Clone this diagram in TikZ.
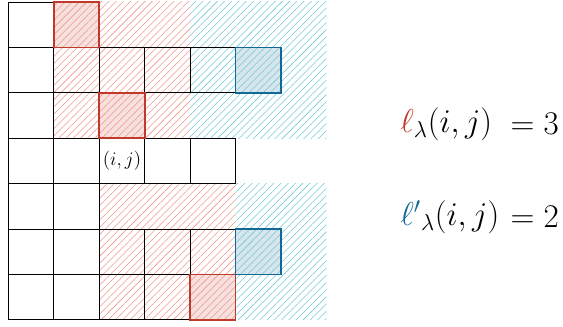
\documentclass[tikz,border=0pt]{standalone}
\usepackage{amssymb}
\usepackage{tikz}
\usetikzlibrary{patterns.meta,positioning}
\usepackage{xcolor}
\definecolor{armred}{RGB}{192,57,43}
\definecolor{armblue}{RGB}{20,104,150}
\definecolor{hatchred}{RGB}{242,150,140}
\definecolor{hatchblue}{RGB}{115,200,218}
\tikzset{
  cell/.style={draw=black, line width=0.6pt, minimum size=1cm, inner sep=0pt,
    outer sep=0pt, font=\large},
  redcell/.style={cell, draw=armred, line width=1.1pt},
  bluecell/.style={cell, draw=armblue, line width=1.1pt},
  redhatch/.style={pattern={Lines[angle=45,distance=3.2pt,line width=0.35pt]},
    pattern color=hatchred},
  bluehatch/.style={pattern={Lines[angle=45,distance=3.2pt,line width=0.35pt]},
    pattern color=hatchblue},
  eq/.style={inner sep=0pt, anchor=west, font=\huge}
}

\begin{document}
\begin{tikzpicture}
  \useasboundingbox (-0.187,0.044) rectangle (12.21,-7.156);
  % highlighted fills
  \fill[armred!15] (1,0) rectangle (2,-1);
  \fill[armred!15] (2,-2) rectangle (3,-3);
  \fill[armred!15] (4,-6) rectangle (5,-7);
  \fill[armblue!17] (5,-1) rectangle (6,-2);
  \fill[armblue!17] (5,-5) rectangle (6,-6);
  % hatched regions
  \fill[redhatch] (1,0) rectangle (4,-3);
  \fill[bluehatch] (4,0) rectangle (7,-3);
  \fill[redhatch] (2,-4) rectangle (5,-7);
  \fill[bluehatch] (5,-4) rectangle (7,-7);
  % the diagram, row by row
  \foreach \r/\len in {1/2,2/6,3/3,4/5,5/2,6/6,7/5}
    \foreach \c in {1,...,\len}
      \node[cell] (c-\r-\c) at (\c-0.5,0.5-\r) {};
  \node[font=\large] (ij) at (c-4-3) {$(i,j)$};
  % arm and leg cells
  \node[redcell] (r1) at (c-1-2) {};
  \node[redcell] (r2) at (c-3-3) {};
  \node[redcell] (r3) at (c-7-5) {};
  \node[bluecell] (b1) at (c-2-6) {};
  \node[bluecell] (b2) at (c-6-6) {};
  % values
  \node[eq] (arm) at (8.62,-2.69) {$\textcolor{armred}{\ell}_\lambda(i,j)$};
  \node[eq] (armv) at (11.05,-2.69) {$=3$};
  \node[eq] (leg) at (8.62,-4.74) {$\textcolor{armblue}{\ell'}_\lambda(i,j)$};
  \node[eq] (legv) at (11.05,-4.74) {$=2$};
\end{tikzpicture}
\end{document}
